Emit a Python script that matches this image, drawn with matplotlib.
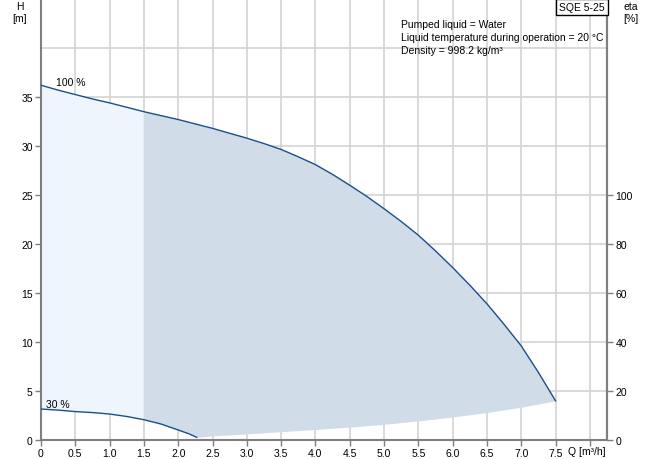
import matplotlib
matplotlib.use("Agg")
import matplotlib.pyplot as plt
import numpy as np

plt.rcParams['font.family'] = ['Liberation Sans', 'DejaVu Sans']
plt.rcParams['font.size'] = 7.5

# 100 % speed curve (Q [m3/h], H [m])
q_100 = [0.0, 0.25, 0.5, 0.75, 1.0, 1.25, 1.5, 1.75, 2.0, 2.25, 2.5, 2.75, 3.0, 3.25,
         3.5, 3.75, 4.0, 4.25, 4.5, 4.75, 5.0, 5.25, 5.5, 5.75, 6.0, 6.25, 6.5, 6.75,
         7.0, 7.25, 7.5]
h_100 = [36.2, 35.7, 35.25, 34.8, 34.4, 33.95, 33.5, 33.1, 32.7, 32.25, 31.8, 31.3, 30.8, 30.25,
         29.65, 28.9, 28.1, 27.1, 26.0, 24.85, 23.6, 22.3, 20.9, 19.3, 17.6, 15.8, 13.9, 11.8,
         9.6, 6.9, 4.0]

# 30 % speed curve
q_30 = [0.0, 0.25, 0.5, 0.75, 1.0, 1.25, 1.5, 1.75, 2.0, 2.15, 2.27]
h_30 = [3.16, 3.05, 2.9, 2.8, 2.65, 2.4, 2.07, 1.63, 1.02, 0.65, 0.27]

# lower limit of the operating range
q_min = [2.27, 2.5, 3.0, 3.5, 4.0, 4.5, 5.0, 5.5, 6.0, 6.5, 7.0, 7.5]
h_min = [0.27, 0.42, 0.62, 0.85, 1.08, 1.32, 1.6, 1.95, 2.35, 2.8, 3.35, 4.0]

x_labels = ["0", "0.5", "1.0", "1.5", "2.0", "2.5", "3.0", "3.5", "4.0", "4.5",
            "5.0", "5.5", "6.0", "6.5", "7.0", "7.5", ""]
h_ticks = [0, 5, 10, 15, 20, 25, 30, 35]
eta_ticks = [0, 20, 40, 60, 80, 100]

line_col = "#1b4f8c"
dark_fill = "#d0dce8"
light_fill = "#eef5fd"
grid_col = "#d3d3d3"
spine_col = "#7f7f7f"

fig = plt.figure(figsize=(6.56, 4.6), dpi=100)
ax = fig.add_axes([41/656, 19/460, 566/656, 441/460])

# fills
qa = np.linspace(0, 7.5, 600)
top = np.interp(qa, q_100, h_100)
low = np.where(qa <= q_30[-1], np.interp(qa, q_30, h_30), np.interp(qa, q_min, h_min))
m_light = qa <= 1.5
m_dark = qa >= 1.5
ax.fill_between(qa[m_light], low[m_light], top[m_light], color=light_fill, lw=0, zorder=1)
ax.fill_between(qa[m_dark], low[m_dark], top[m_dark], color=dark_fill, lw=0, zorder=1)

ax.plot(q_100, h_100, color=line_col, lw=1.0, zorder=3)
ax.plot(q_30, h_30, color=line_col, lw=1.0, zorder=3)

ax.text(0.22, 36.0, "100 %", ha="left", va="bottom")
ax.text(0.08, 3.2, "30 %", ha="left", va="bottom")

ax.set_xlim(0, 8.25)
ax.set_ylim(0, 45)
ax.set_xticks(np.arange(0, 8.01, 0.5))
ax.set_xticklabels(x_labels)
ax.set_yticks(h_ticks)
ax.set_yticks([40, 45], minor=True)
ax.tick_params(axis="y", which="minor", length=0)
ax.grid(True, which="both", color=grid_col, lw=1.2, zorder=0)
ax.set_axisbelow(True)

for s in ["left", "bottom", "right"]:
    ax.spines[s].set_color(spine_col)
    ax.spines[s].set_linewidth(1.5)
ax.spines["top"].set_visible(False)
ax.tick_params(which="major", colors=spine_col, labelcolor="black", length=4, width=1, pad=2)

ax2 = ax.twinx()
ax2.set_ylim(0, 180)
ax2.set_yticks(eta_ticks)
ax2.spines["top"].set_visible(False)
ax2.spines["right"].set_color(spine_col)
ax2.spines["right"].set_linewidth(1.5)
ax2.spines["left"].set_visible(False)
ax2.spines["bottom"].set_visible(False)
ax2.tick_params(colors=spine_col, labelcolor="black", length=4, width=1, pad=2)

fig.text(20/656, 1 - 7/460, "H", ha="center", va="center")
fig.text(20/656, 1 - 19/460, "[m]", ha="center", va="center")
fig.text(631/656, 1 - 7/460, "eta", ha="center", va="center")
fig.text(631/656, 1 - 19/460, "[%]", ha="center", va="center")
fig.text(568/656, 1 - 452/460, "Q [m³/h]", ha="left", va="center")

fig.text(401/656, 1 - 25/460, "Pumped liquid = Water", ha="left", va="center")
fig.text(401/656, 1 - 38/460, "Liquid temperature during operation = 20 °C", ha="left", va="center")
fig.text(401/656, 1 - 51/460, "Density = 998.2 kg/m³", ha="left", va="center")
fig.text(582/656, 1 - 8/460, "SQE 5-25", ha="center", va="center",
         bbox=dict(boxstyle="square,pad=0.3", fc="white", ec="black", lw=1))

fig.savefig("out.png", dpi=100)
